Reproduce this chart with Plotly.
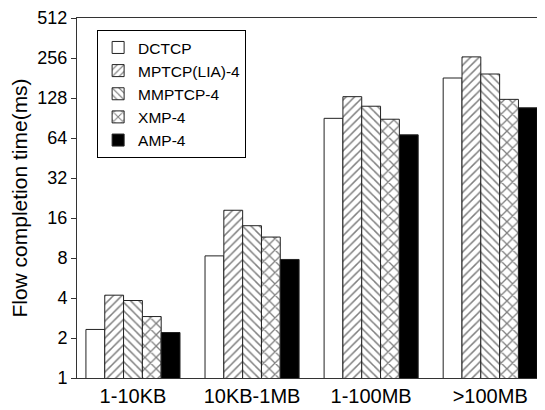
import plotly.graph_objects as go

categories = ["1-10KB", "10KB-1MB", "1-100MB", ">100MB"]
series_names = ["DCTCP", "MPTCP(LIA)-4", "MMPTCP-4", "XMP-4", "AMP-4"]
dctcp = [2.32, 8.3, 90, 181]
mptcp = [4.2, 18.3, 131, 261]
mmptcp = [3.83, 14.0, 111, 194]
xmp = [2.9, 11.5, 88.6, 125]
amp = [2.2, 7.8, 67.6, 108]
tick_vals = [1, 2, 4, 8, 16, 32, 64, 128, 256, 512]
tick_text = [str(v) for v in tick_vals]

series_values = [dctcp, mptcp, mmptcp, xmp, amp]
styles = [
    dict(color="white", pattern=dict(shape="")),
    dict(color="white", pattern=dict(shape="/", fgcolor="black", bgcolor="white", size=6, solidity=0.25)),
    dict(color="white", pattern=dict(shape="\\", fgcolor="black", bgcolor="white", size=6, solidity=0.25)),
    dict(color="white", pattern=dict(shape="x", fgcolor="black", bgcolor="white", size=8, solidity=0.3)),
    dict(color="black", pattern=dict(shape="")),
]

fig = go.Figure()
for name, vals, st in zip(series_names, series_values, styles):
    fig.add_trace(go.Bar(
        x=categories, y=vals, name=name,
        marker=dict(color=st["color"], pattern=st["pattern"],
                    line=dict(color="#222", width=1)),
    ))

# page body has an 8px margin, so the figure is sized/offset to compensate
fig.update_layout(
    width=537, height=402,
    margin=dict(l=69, r=0, t=10, b=32, autoexpand=False),
    paper_bgcolor="white", plot_bgcolor="white",
    barmode="group", bargap=0.21, bargroupgap=0,
    font=dict(family="Liberation Sans, Arial, sans-serif", color="black"),
    showlegend=True,
    legend=dict(x=0.043, y=0.967, xanchor="left", yanchor="top",
                bgcolor="white", bordercolor="black", borderwidth=1,
                font=dict(size=15.5), tracegroupgap=0),
)
fig.update_xaxes(
    range=[-0.47, 3.46], showline=True, linecolor="#333", linewidth=1,
    mirror=True, ticks="", tickfont=dict(size=20), showgrid=False,
    automargin=False,
)
fig.update_yaxes(
    type="log", range=[0, 2.70927], tickvals=tick_vals, ticktext=tick_text,
    showline=True, linecolor="#333", linewidth=1, mirror=True,
    ticks="outside", ticklen=5, tickcolor="#333", tickfont=dict(size=18),
    showgrid=False, automargin=False,
    title=dict(text="Flow completion time(ms)", font=dict(size=21), standoff=4),
)
fig.write_html("out.html")
